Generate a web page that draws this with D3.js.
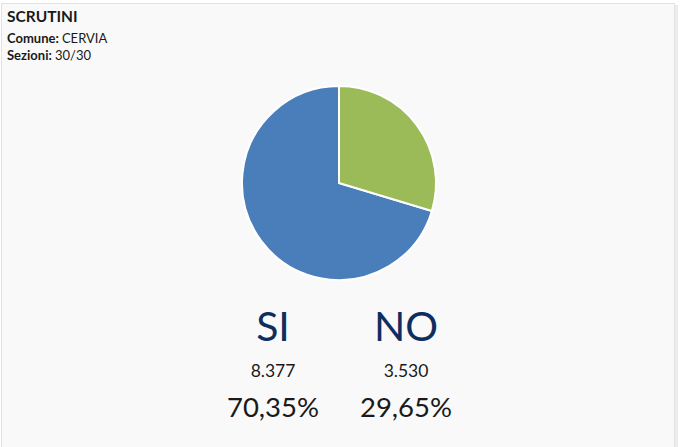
<!DOCTYPE html>
<html>
<head lang="it">
    <meta charset="UTF-8">
    <script src="https://cdn.jsdelivr.net/npm/d3@7"></script>
    <style>
        html, body { margin: 0; padding: 0; background: #fff; }
        svg { display: block; font-family: Lato, "Open Sans", sans-serif; }
    </style>
</head>
<body>
<svg width="684" height="447"></svg>
<script>
    var categories = ['SI', 'NO'];
    var votes = [8377, 3530];
    var votesLabels = ['8.377', '3.530'];
    var percentLabels = ['70,35%', '29,65%'];
    var sliceColors = ['#4a7ebb', '#9bbb59'];

    var svg = d3.select('svg');

    // box with light shadow
    svg.append('rect')
        .attr('x', 4).attr('y', 5).attr('width', 674).attr('height', 460)
        .attr('fill', '#ececec');
    svg.append('rect')
        .attr('x', 1.5).attr('y', 3.5).attr('width', 673).attr('height', 460)
        .attr('fill', '#f9f9f9')
        .attr('stroke', '#e2e2e2');

    svg.append('text').attr('x', 7).attr('y', 22)
        .style('font-size', '15.5px').style('font-weight', 'bold').attr('fill', '#1a1a1a')
        .text('SCRUTINI');
    var info = [['Comune: ', 'CERVIA'], ['Sezioni: ', '30/30']];
    info.forEach(function (d, i) {
        var t = svg.append('text').attr('x', 7).attr('y', 43 + i * 17)
            .style('font-size', '13px').attr('fill', '#1a1a1a');
        t.append('tspan').style('font-weight', 'bold').text(d[0]);
        t.append('tspan').text(d[1]);
    });

    // pie, NO slice starts at 12 o'clock
    var total = d3.sum(votes);
    var pie = d3.pie().sort(null)
        .startAngle(-2 * Math.PI * votes[0] / total)
        .endAngle(2 * Math.PI - 2 * Math.PI * votes[0] / total);
    var arc = d3.arc().innerRadius(0).outerRadius(97);
    var g = svg.append('g').attr('transform', 'translate(339,183)');
    g.selectAll('path')
        .data(pie(votes))
        .enter()
        .append('path')
        .attr('d', arc)
        .attr('fill', function (d, i) { return sliceColors[i]; })
        .attr('stroke', '#ffffff')
        .attr('stroke-width', 2);

    var x = d3.scalePoint().domain(categories).range([273, 406]);

    svg.selectAll('.cat')
        .data(categories)
        .enter()
        .append('text')
        .attr('x', function (d) { return x(d); })
        .attr('y', 341)
        .attr('text-anchor', 'middle')
        .style('font-size', '41px')
        .attr('fill', '#0f2d5e')
        .text(function (d) { return d; });

    svg.selectAll('.votes')
        .data(votesLabels)
        .enter()
        .append('text')
        .attr('x', function (d, i) { return x(categories[i]); })
        .attr('y', 377)
        .attr('text-anchor', 'middle')
        .style('font-size', '17.5px')
        .attr('fill', '#1a1a1a')
        .text(function (d) { return d; });

    svg.selectAll('.pct')
        .data(percentLabels)
        .enter()
        .append('text')
        .attr('x', function (d, i) { return x(categories[i]); })
        .attr('y', 417)
        .attr('text-anchor', 'middle')
        .style('font-size', '27.5px')
        .attr('fill', '#1a1a1a')
        .text(function (d) { return d; });
</script>
</body>
</html>
